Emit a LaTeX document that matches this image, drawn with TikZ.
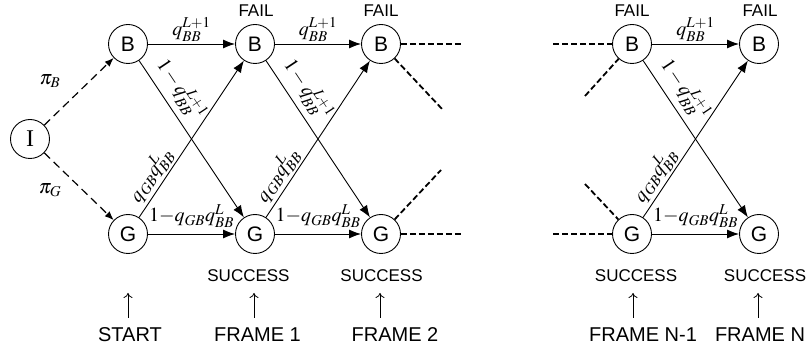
\documentclass[tikz,border=0pt]{standalone}
\usepackage{mathptmx}
\usepackage{fontspec}
\setmainfont{Liberation Serif}
\setsansfont{Liberation Sans}
\usetikzlibrary{arrows.meta}
\DeclareMathSizes{20}{20}{15}{12}
\tikzset{
  st/.style={circle, draw, line width=0.9pt, minimum size=39pt, inner sep=0pt,
    font=\sffamily\fontsize{21}{21}\selectfont},
  edge/.style={line width=0.9pt, -{Latex[length=12pt,width=9pt]}},
  init/.style={line width=1.2pt, dash pattern=on 8pt off 5pt, -{Latex[length=9pt,width=7pt]}},
  stub/.style={line width=1.8pt, dash pattern=on 6pt off 3pt},
  lab/.style={inner sep=0pt, font=\fontsize{20}{20}\selectfont},
  captxt/.style={font=\sffamily\fontsize{17}{17}\selectfont, inner sep=0pt},
  frm/.style={font=\sffamily\fontsize{20}{20}\selectfont, inner sep=0pt},
  upar/.style={line width=0.8pt, -{To[length=5pt,width=9pt]}}
}
\begin{document}
\begin{tikzpicture}[x=1pt,y=-1pt]
\useasboundingbox (0,0) rectangle (811,352);
% states
\node[st, font=\rmfamily\fontsize{24}{24}\selectfont] (I) at (30,139) {I};
\node[st] (B1) at (128,44) {B};
\node[st] (G1) at (128,234) {G};
\node[st] (B2) at (255,44) {B};
\node[st] (G2) at (255,234) {G};
\node[st] (B3) at (381,44) {B};
\node[st] (G3) at (381,234) {G};
\node[st] (BN1) at (632,44) {B};
\node[st] (GN1) at (632,234) {G};
\node[st] (BN) at (759,44) {B};
\node[st] (GN) at (759,234) {G};
% initial
\draw[init] (I) -- (B1);
\draw[init] (I) -- (G1);
\node[lab] (piB) at (50,81) {$\pi_B$};
\node[lab] (piG) at (50,190) {$\pi_G$};
% transitions
\foreach \a/\b/\c/\d in {B1/G1/B2/G2, B2/G2/B3/G3, BN1/GN1/BN/GN}{
  \draw[edge] (\a) -- (\c) node[midway, above=2pt, lab] {$q_{BB}^{L+1}$};
  \draw[edge] (\a) -- (\d) node[pos=0.25, sloped, above=6pt, lab] {$1-q_{BB}^{L+1}$};
  \draw[edge] (\b) -- (\c) node[pos=0.22, sloped, above=2pt, lab] {$q_{GB}q_{BB}^{L}$};
  \draw[edge] (\b) -- (\d) node[midway, above=6pt, lab] {$1{-}q_{GB}q_{BB}^{L}$};
}
% dashed continuation stubs
\coordinate (s1) at (462,44);
\coordinate (s2) at (443,110);
\coordinate (s3) at (441,170);
\coordinate (s4) at (462,234);
\coordinate (t1) at (553,44);
\coordinate (t2) at (585,96);
\coordinate (t3) at (585,184);
\coordinate (t4) at (553,234);
\draw[stub] (B3) -- (s1);
\draw[stub] (B3) -- (s2);
\draw[stub] (G3) -- (s3);
\draw[stub] (G3) -- (s4);
\draw[stub] (t1) -- (BN1);
\draw[stub] (t2) -- (BN1);
\draw[stub] (t3) -- (GN1);
\draw[stub] (t4) -- (GN1);
% FAIL / SUCCESS
\node[captxt] (f2) at (256,11) {FAIL};
\node[captxt] (f3) at (381,11) {FAIL};
\node[captxt] (fN1) at (632,11) {FAIL};
\node[captxt] (fN) at (760,11) {FAIL};
\node[captxt] (sc2) at (248.5,276) {SUCCESS};
\node[captxt] (sc3) at (381.5,276) {SUCCESS};
\node[captxt] (scN1) at (636,276) {SUCCESS};
\node[captxt] (scN) at (765,276) {SUCCESS};
% frame markers
\node[frm] (fr0) at (130,334.5) {START};
\node[frm] (fr1) at (257.5,334.5) {FRAME 1};
\node[frm] (fr2) at (395,334.5) {FRAME 2};
\node[frm] (frN1) at (643,334.5) {FRAME N-1};
\node[frm] (frN) at (760,334.5) {FRAME N};
\foreach \n/\x in {0/128, 1/254, 2/380, 3/633, 4/758}{
  \coordinate (ab\n) at (\x,318);
  \coordinate (at\n) at (\x,293);
  \draw[upar] (ab\n) -- (at\n);
}
\end{tikzpicture}
\end{document}
